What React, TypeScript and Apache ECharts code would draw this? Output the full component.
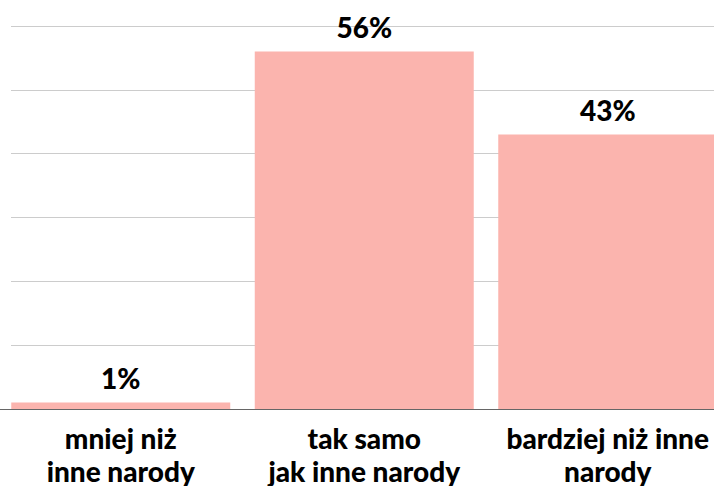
import React, { useEffect, useRef } from "react";
import * as echarts from "echarts";

const categories = ["mniej niż\ninne narody", "tak samo\njak inne narody", "bardziej niż inne\nnarody"];
const values = [1, 56, 43];
const yTicks = [0, 10, 20, 30, 40, 50, 60];

export default function App() {
  const ref = useRef<HTMLDivElement>(null);
  useEffect(() => {
    if (!ref.current) return;
    const chart = echarts.init(ref.current, null, { renderer: "svg" });
    const font = "Lato";
    chart.setOption({
      animation: false,
      backgroundColor: "#fff",
      grid: [
        { left: 11, right: 0, top: 26, bottom: 77, outerBoundsMode: "none", containLabel: false },
        { left: -1, width: 730.5, top: 26, bottom: 77, outerBoundsMode: "none", containLabel: false },
      ],
      xAxis: [
        { type: "category", gridIndex: 0, data: categories, show: false },
        {
          type: "category",
          gridIndex: 1,
          data: categories,
          axisLine: { show: true, lineStyle: { color: "#666", width: 1 } },
          axisTick: { show: false },
          axisLabel: {
            interval: 0,
            margin: 12,
            color: "#000",
            fontFamily: font,
            fontWeight: 900,
            fontSize: 28,
            lineHeight: 33,
          },
        },
      ],
      yAxis: [
        {
          type: "value",
          gridIndex: 0,
          min: yTicks[0],
          max: yTicks[yTicks.length - 1],
          interval: 10,
          axisLabel: { show: false },
          axisLine: { show: false },
          axisTick: { show: false },
          splitLine: { show: true, lineStyle: { color: "#ccc", width: 1 } },
        },
        {
          type: "value",
          gridIndex: 1,
          min: yTicks[0],
          max: yTicks[yTicks.length - 1],
          interval: 10,
          show: false,
          splitLine: { show: false },
        },
      ],
      series: [
        {
          type: "bar",
          xAxisIndex: 1,
          yAxisIndex: 1,
          data: values,
          barWidth: 219,
          itemStyle: { color: "#FBB4AE" },
          label: {
            show: true,
            position: "top",
            distance: 11,
            formatter: "{c}%",
            color: "#000",
            fontFamily: font,
            fontWeight: 900,
            fontSize: 28,
          },
        },
      ],
    });
    return () => chart.dispose();
  }, []);
  return <div ref={ref} style={{ width: 714, height: 486, position: "absolute", left: 0, top: 0 }} />;
}
